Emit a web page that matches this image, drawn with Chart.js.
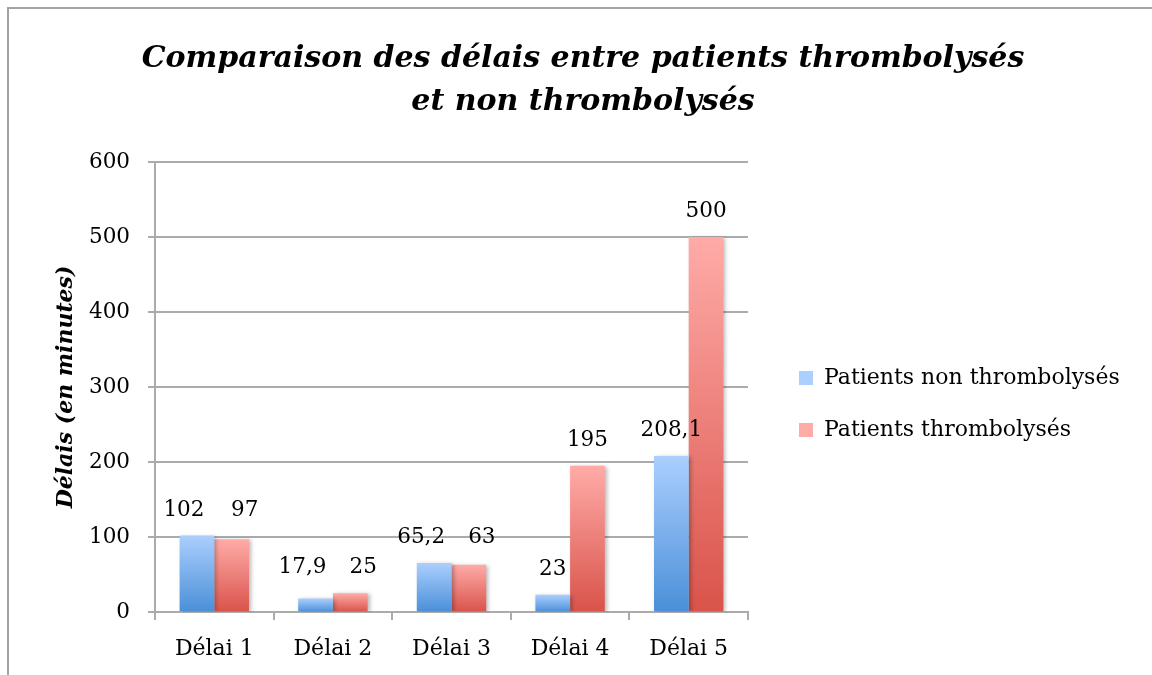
<!DOCTYPE html>
<html>
<head>
<meta charset="utf-8">
<script src="https://cdn.jsdelivr.net/npm/chart.js@4"></script>
<style>
html,body{margin:0;padding:0;background:#fff;overflow:hidden;width:1152px;height:675px;}
#frame{position:absolute;left:7px;top:7px;width:1300px;height:800px;border-left:2px solid #a3a3a3;border-top:2px solid #a3a3a3;}
#c{position:absolute;left:0;top:0;}
</style>
</head>
<body>
<div id="frame"></div>
<canvas id="c" width="1152" height="675"></canvas>
<script>
const categories = ['Délai 1', 'Délai 2', 'Délai 3', 'Délai 4', 'Délai 5'];
const seriesNames = ['Patients non thrombolysés', 'Patients thrombolysés'];
const nonThrombolyses = [102, 17.9, 65.2, 23, 208.1];
const thrombolyses = [97, 25, 63, 195, 500];
const titleLines = ['Comparaison des délais entre patients thrombolysés', 'et non thrombolysés'];
const yAxisTitle = 'Délais (en minutes)';
const yMin = 0, yMax = 600, yStep = 100;

const FONT = '"DejaVu Serif", serif';
Chart.defaults.font.family = FONT;
Chart.defaults.color = '#000';

const LEGEND_FONT = 22;
const LEGEND_BOX = 14;
const LEGEND_PAD = 30;
const PLOT_RIGHT = 748;

// natural legend width, so that the plot area ends where the reference's does
const mctx = document.createElement('canvas').getContext('2d');
mctx.font = LEGEND_FONT + 'px ' + FONT;
const legendTextW = Math.max(...seriesNames.map(s => mctx.measureText(s).width));
const legendW = LEGEND_PAD + LEGEND_BOX + LEGEND_FONT / 2 + legendTextW + 10;
const rightPad = Math.max(0, 1152 - PLOT_RIGHT - legendW);

function fmt(v) { return String(v).replace('.', ','); }

function barGradient(top, bottom, mid) {
  return (ctx) => {
    const chart = ctx.chart;
    if (ctx.type !== 'data' || !chart.chartArea || !chart.scales.y) return mid;
    const ys = chart.scales.y;
    const yTop = ys.getPixelForValue(ctx.raw);
    const yBot = ys.getPixelForValue(0);
    if (!isFinite(yTop) || !isFinite(yBot) || yBot - yTop < 1) return bottom;
    const g = chart.ctx.createLinearGradient(0, yTop, 0, yBot);
    g.addColorStop(0, top);
    g.addColorStop(1, bottom);
    return g;
  };
}

const shadowPlugin = {
  id: 'barShadow',
  beforeDatasetsDraw(chart) {
    const c = chart.ctx;
    c.save();
    c.shadowColor = 'rgba(0,0,0,0.28)';
    c.shadowBlur = 4;
    c.shadowOffsetX = 2;
    c.shadowOffsetY = 1;
  },
  afterDatasetsDraw(chart) { chart.ctx.restore(); }
};

const labelPlugin = {
  id: 'valueLabels',
  afterDatasetsDraw(chart) {
    const ctx = chart.ctx;
    ctx.save();
    ctx.font = '21.5px ' + FONT;
    ctx.fillStyle = '#000';
    ctx.textAlign = 'center';
    ctx.textBaseline = 'alphabetic';
    const m0 = chart.getDatasetMeta(0), m1 = chart.getDatasetMeta(1);
    const d0 = chart.data.datasets[0].data, d1 = chart.data.datasets[1].data;
    categories.forEach((c, i) => {
      const b0 = m0.data[i], b1 = m1.data[i];
      const t0 = fmt(d0[i]), t1 = fmt(d1[i]);
      let x0 = b0.x, x1 = b1.x, y0 = b0.y - 20, y1 = b1.y - 20;
      const w0 = ctx.measureText(t0).width, w1 = ctx.measureText(t1).width;
      if (Math.abs(y0 - y1) < 24 && (x1 - w1 / 2) - (x0 + w0 / 2) < 20) {
        const y = Math.min(y0, y1);
        y0 = y; y1 = y;
        x0 -= 13; x1 += 13;
      }
      ctx.fillText(t0, x0, y0);
      ctx.fillText(t1, x1, y1);
    });
    ctx.restore();
  }
};

const layoutPlugin = {
  id: 'layoutTweak',
  afterLayout(chart) {
    const lg = chart.legend;
    if (lg) { lg.left += 21; lg.right += 21; lg.top += 17; lg.bottom += 17; }
    const t = chart.titleBlock;
    if (t) { t.left = 0; t.right = 1166; }
  }
};

const GRID = '#ababab';

new Chart(document.getElementById('c'), {
  type: 'bar',
  data: {
    labels: categories,
    datasets: [
      {
        label: seriesNames[0],
        data: nonThrombolyses,
        backgroundColor: barGradient('#abcffe', '#4a8fd8', '#7cb0ee'),
        borderWidth: 0,
        categoryPercentage: 0.585,
        barPercentage: 1.0
      },
      {
        label: seriesNames[1],
        data: thrombolyses,
        backgroundColor: barGradient('#ffaba8', '#d9534a', '#ee8079'),
        borderWidth: 0,
        categoryPercentage: 0.585,
        barPercentage: 1.0
      }
    ]
  },
  options: {
    responsive: false,
    animation: false,
    devicePixelRatio: 1,
    layout: { padding: { left: 0, top: 0, right: rightPad, bottom: 0 } },
    plugins: {
      title: {
        display: true,
        text: titleLines,
        font: { size: 30, weight: 'bold', style: 'italic', family: FONT, lineHeight: 43 / 30 },
        color: '#000',
        padding: { top: 38, bottom: 38 }
      },
      legend: {
        display: true,
        position: 'right',
        align: 'center',
        fullSize: false,
        maxWidth: 1000,
        labels: {
          boxWidth: LEGEND_BOX,
          boxHeight: LEGEND_BOX,
          padding: LEGEND_PAD,
          color: '#000',
          font: { size: LEGEND_FONT, family: FONT }
        }
      },
      tooltip: { enabled: false }
    },
    scales: {
      x: {
        grid: { display: true, drawOnChartArea: false, drawTicks: true, tickLength: 8, color: GRID, lineWidth: 2 },
        border: { display: true, color: GRID, width: 2 },
        ticks: { padding: 16, color: '#000', font: { size: 22, family: FONT } },
        afterFit(s) { s.height = 63; }
      },
      y: {
        min: yMin,
        max: yMax,
        ticks: { stepSize: yStep, padding: 18, color: '#000', font: { size: 21.5, family: FONT } },
        grid: { color: GRID, lineWidth: 2, tickLength: 7, drawTicks: true },
        border: { display: true, color: GRID, width: 2 },
        title: {
          display: true,
          text: yAxisTitle,
          color: '#000',
          font: { size: 22, weight: 'bold', style: 'italic', family: FONT },
          padding: { top: 53, bottom: 0 }
        },
        afterFit(s) { s.width = 155; }
      }
    }
  },
  plugins: [shadowPlugin, labelPlugin, layoutPlugin]
});
</script>
</body>
</html>
